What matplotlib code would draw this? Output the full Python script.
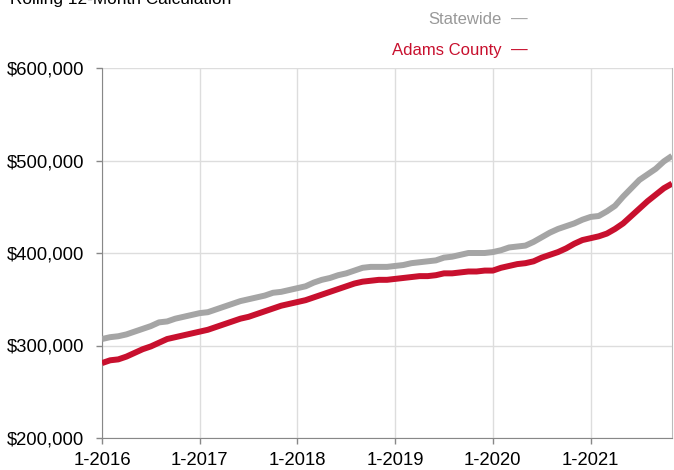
import numpy as np
import matplotlib
matplotlib.use('Agg')
import matplotlib.pyplot as plt

plt.rcParams['font.family'] = ['Liberation Sans', 'DejaVu Sans']

# monthly rolling 12-month values, Jan 2016 .. Nov 2021 (in $)
statewide = [307, 309, 310, 312, 315, 318, 321, 325, 326, 329, 331, 333,
             335, 336, 339, 342, 345, 348, 350, 352, 354, 357, 358, 360,
             362, 364, 368, 371, 373, 376, 378, 381, 384, 385, 385, 385,
             386, 387, 389, 390, 391, 392, 395, 396, 398, 400, 400, 400,
             401, 403, 406, 407, 408, 412, 417, 422, 426, 429, 432, 436,
             439, 440, 445, 451, 461, 470, 479, 485, 491, 499, 505]
adams = [281, 284, 285, 288, 292, 296, 299, 303, 307, 309, 311, 313,
         315, 317, 320, 323, 326, 329, 331, 334, 337, 340, 343, 345,
         347, 349, 352, 355, 358, 361, 364, 367, 369, 370, 371, 371,
         372, 373, 374, 375, 375, 376, 378, 378, 379, 380, 380, 381,
         381, 384, 386, 388, 389, 391, 395, 398, 401, 405, 410, 414,
         416, 418, 421, 426, 432, 440, 448, 456, 463, 470, 475]
statewide = np.array(statewide) * 1000
adams = np.array(adams) * 1000
months = np.arange(len(statewide))

year_ticks = [0, 12, 24, 36, 48, 60]
year_labels = ['1-2016', '1-2017', '1-2018', '1-2019', '1-2020', '1-2021']
y_ticks = [200000, 300000, 400000, 500000, 600000]

GRAY = '#A5A5A5'
RED = '#C8102E'

fig = plt.figure(figsize=(6.74, 4.70), dpi=100)
ax = fig.add_axes([102 / 674, 1 - 438 / 470, 570 / 674, 370 / 470])

ax.plot(months, statewide, color=GRAY, lw=4.3, solid_capstyle='butt', zorder=3)
ax.plot(months, adams, color=RED, lw=4.3, solid_capstyle='butt', zorder=3)

ax.set_xlim(0, len(months) - 1)
ax.set_ylim(200000, 600000)
ax.set_xticks(year_ticks)
ax.set_xticklabels(year_labels)
ax.set_yticks(y_ticks)
ax.set_yticklabels([f'${v:,.0f}' for v in y_ticks])
ax.grid(color='#DDDDDD', lw=1)
ax.set_axisbelow(True)
ax.tick_params(axis='both', labelsize=13.3, colors='#888888', labelcolor='black',
               length=4, width=1)
ax.tick_params(axis='x', pad=6)
ax.tick_params(axis='y', pad=9)
for s in ['left', 'bottom']:
    ax.spines[s].set_color('#888888')
ax.spines['top'].set_visible(False)
ax.spines['right'].set_color('#BBBBBB')

fig.text(10 / 674, 1 - 4 / 470, 'Rolling 12-Month Calculation', fontsize=12.4,
         color='black', ha='left', va='baseline')
fig.text(502 / 674, 1 - 19 / 470, 'Statewide', fontsize=12, color='#999999',
         ha='right', va='center')
fig.text(511 / 674, 1 - 19 / 470, '—', fontsize=12, color=GRAY, ha='left', va='center')
fig.text(502 / 674, 1 - 50 / 470, 'Adams County', fontsize=12, color=RED,
         ha='right', va='center')
fig.text(511 / 674, 1 - 50 / 470, '—', fontsize=12, color=RED, ha='left', va='center')

fig.savefig('out.png', dpi=100)
